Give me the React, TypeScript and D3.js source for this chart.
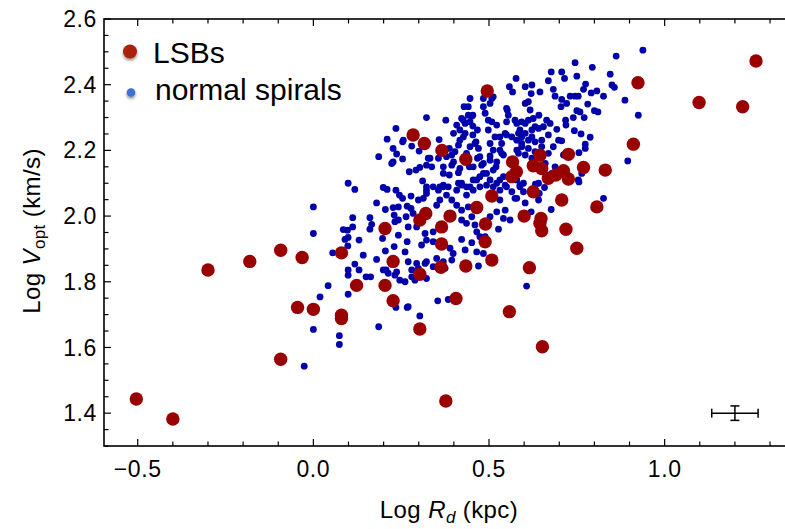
import React from "react";
import * as d3 from "d3";

// ---- data ----
const lsbPoints: [number, number][] = [
  [-0.504, 1.443], [-0.40, 1.382], [-0.30, 1.836], [-0.181, 1.862], [-0.093, 1.896], [-0.032, 1.874],
  [0.08, 1.888], [0.123, 1.789], [0.204, 1.789], [0.227, 1.742], [-0.045, 1.722], [0.0, 1.716],
  [0.08, 1.698], [0.08, 1.688], [-0.093, 1.564], [0.204, 1.962], [0.227, 1.862],
  [1.26, 2.472], [0.924, 2.406], [1.098, 2.346], [1.222, 2.333], [0.495, 2.381], [0.911, 2.219],
  [0.284, 2.247], [0.316, 2.221], [0.366, 2.2], [0.434, 2.173], [0.726, 2.188], [0.769, 2.148], [0.831, 2.14],
  [0.567, 2.165], [0.578, 2.135], [0.565, 2.12], [0.626, 2.153], [0.645, 2.185], [0.65, 2.145],
  [0.669, 2.115], [0.69, 2.125], [0.712, 2.138], [0.726, 2.113],
  [0.626, 2.074], [0.707, 2.049], [0.807, 2.028], [0.508, 2.061], [0.465, 2.026], [0.32, 2.008],
  [0.303, 1.988], [0.389, 2.0], [0.365, 1.967], [0.365, 1.915], [0.49, 1.976], [0.489, 1.922],
  [0.6, 2.0], [0.648, 1.993], [0.645, 1.978], [0.65, 1.955], [0.719, 1.96], [0.75, 1.902],
  [0.508, 1.866], [0.363, 1.844], [0.434, 1.848], [0.615, 1.843], [0.303, 1.823], [0.406, 1.749],
  [0.558, 1.709], [0.303, 1.656], [0.652, 1.602], [0.377, 1.437],
];

const spiralPoints: [number, number][] = [
  [0.099, 2.10], [0.118, 2.081], [0.0, 2.028], [0.0, 1.947], [0.199, 2.087], [0.21, 2.081], [0.235, 2.079],
  [0.18, 2.04], [0.205, 2.02], [0.227, 2.026], [0.23, 2.003], [0.112, 1.995], [0.161, 1.995], [0.112, 1.967],
  [0.166, 1.975], [0.161, 1.96], [0.232, 1.983], [0.09, 1.929], [0.099, 1.935], [0.13, 1.927], [0.197, 1.932],
  [0.098, 1.909], [0.055, 1.888], [0.142, 1.881], [0.205, 1.894], [0.23, 1.907], [0.18, 1.868], [0.118, 1.854],
  [0.099, 1.836], [0.13, 1.836], [0.099, 1.82], [0.15, 1.815], [0.163, 1.815], [0.199, 1.836], [0.207, 1.836],
  [0.042, 1.788], [0.019, 1.754], [0.099, 1.762], [0.235, 1.722], [0.0, 1.655], [0.074, 1.636], [0.074, 1.609],
  [0.186, 1.663], [-0.026, 1.543], [0.085, 1.959], [0.097, 1.957],
  [0.322, 2.30], [0.235, 2.267], [0.21, 2.234], [0.254, 2.226], [0.28, 2.213], [0.301, 2.198], [0.227, 2.206],
  [0.237, 2.189], [0.186, 2.181], [0.254, 2.174], [0.227, 2.165], [0.223, 2.16], [0.327, 2.176], [0.273, 2.135],
  [0.292, 2.14], [0.303, 2.148], [0.322, 2.155], [0.311, 2.107], [0.322, 2.079], [0.245, 2.064], [0.254, 2.054],
  [0.278, 2.061], [0.242, 2.028], [0.267, 2.03], [0.278, 2.023], [0.264, 1.998],
  [0.577, 2.419], [0.558, 2.394], [0.567, 2.378], [0.446, 2.358], [0.484, 2.358], [0.508, 2.358], [0.429, 2.333],
  [0.441, 2.333], [0.484, 2.333], [0.552, 2.323], [0.454, 2.307], [0.427, 2.292], [0.489, 2.313], [0.498, 2.292],
  [0.446, 2.287], [0.377, 2.292], [0.408, 2.277], [0.417, 2.262], [0.454, 2.274], [0.467, 2.262], [0.508, 2.287],
  [0.522, 2.277], [0.55, 2.287], [0.574, 2.292], [0.256, 2.231], [0.358, 2.233], [0.417, 2.231], [0.432, 2.252],
  [0.454, 2.247], [0.463, 2.226], [0.413, 2.216], [0.446, 2.211], [0.47, 2.206], [0.503, 2.221], [0.531, 2.241],
  [0.546, 2.252], [0.565, 2.241], [0.584, 2.252], [0.512, 2.201], [0.531, 2.201], [0.387, 2.206], [0.332, 2.176],
  [0.356, 2.176], [0.394, 2.186], [0.37, 2.15], [0.394, 2.155], [0.413, 2.132], [0.387, 2.125], [0.444, 2.15],
  [0.467, 2.176], [0.479, 2.155], [0.503, 2.17], [0.52, 2.15], [0.541, 2.186], [0.579, 2.201], [0.579, 2.11],
  [0.337, 2.15], [0.322, 2.089], [0.341, 2.089], [0.36, 2.089], [0.384, 2.089], [0.422, 2.1], [0.446, 2.089],
  [0.465, 2.11], [0.484, 2.13], [0.503, 2.11], [0.522, 2.1], [0.541, 2.12],
  [0.938, 2.505], [0.862, 2.487], [0.745, 2.467], [0.794, 2.453], [0.677, 2.439], [0.707, 2.439], [0.75, 2.426],
  [0.715, 2.419], [0.669, 2.412], [0.845, 2.432], [0.85, 2.399], [0.857, 2.392], [0.603, 2.394], [0.622, 2.399],
  [0.645, 2.378], [0.683, 2.386], [0.775, 2.402], [0.769, 2.386], [0.791, 2.375], [0.807, 2.381], [0.826, 2.365],
  [0.887, 2.353], [0.62, 2.373], [0.612, 2.348], [0.688, 2.365], [0.731, 2.365], [0.745, 2.365], [0.754, 2.365],
  [0.707, 2.355], [0.705, 2.333], [0.721, 2.343], [0.781, 2.341], [0.81, 2.317], [0.8, 2.321], [0.75, 2.321],
  [0.759, 2.317], [0.771, 2.30], [0.74, 2.30], [0.617, 2.323], [0.642, 2.307], [0.664, 2.292], [0.626, 2.297],
  [0.612, 2.292], [0.718, 2.292], [0.719, 2.277], [0.693, 2.264], [0.743, 2.26], [0.762, 2.25], [0.788, 2.24],
  [0.774, 2.219], [0.925, 2.307], [0.895, 2.168], [0.707, 2.229], [0.756, 2.193], [0.774, 2.206], [0.674, 2.282],
  [0.655, 2.272], [0.631, 2.272], [0.641, 2.267], [0.622, 2.262], [0.603, 2.282], [0.593, 2.287], [0.579, 2.282],
  [0.588, 2.262], [0.603, 2.252], [0.622, 2.241], [0.669, 2.247], [0.698, 2.231], [0.683, 2.211], [0.669, 2.191],
  [0.712, 2.186], [0.65, 2.231], [0.631, 2.226], [0.612, 2.231], [0.593, 2.241], [0.579, 2.231], [0.593, 2.211],
  [0.612, 2.206], [0.631, 2.196], [0.65, 2.211], [0.584, 2.191], [0.603, 2.186], [0.622, 2.176], [0.66, 2.16],
  [0.688, 2.15], [0.679, 2.13], [0.764, 2.13], [0.754, 2.11], [0.598, 2.1], [0.588, 2.089], [0.641, 2.1],
  [0.299, 2.049], [0.313, 2.054], [0.322, 2.069], [0.356, 2.079], [0.37, 2.094], [0.379, 2.064], [0.394, 2.049],
  [0.36, 2.049], [0.351, 2.033], [0.408, 2.079], [0.422, 2.094], [0.436, 2.064], [0.455, 2.079], [0.474, 2.089],
  [0.493, 2.094], [0.512, 2.089], [0.531, 2.079], [0.546, 2.094], [0.565, 2.074], [0.408, 2.033], [0.422, 2.018],
  [0.441, 2.028], [0.451, 1.998], [0.436, 1.978], [0.422, 1.988], [0.46, 1.973], [0.465, 1.952], [0.474, 1.937],
  [0.489, 1.937], [0.503, 1.998], [0.522, 2.013], [0.546, 2.018], [0.541, 1.993], [0.56, 1.988], [0.574, 2.054],
  [0.531, 2.049], [0.527, 1.96], [0.465, 1.891], [0.484, 1.886], [0.47, 1.848], [0.389, 1.902], [0.398, 1.886],
  [0.394, 1.866], [0.37, 1.861], [0.375, 1.841], [0.422, 1.929], [0.451, 1.919], [0.432, 1.897], [0.351, 1.871],
  [0.322, 1.861], [0.341, 1.846], [0.308, 1.912], [0.322, 1.927], [0.341, 1.952], [0.318, 1.947], [0.341, 1.922],
  [0.27, 1.967], [0.242, 1.942], [0.267, 1.922], [0.261, 1.891], [0.27, 1.861], [0.28, 1.836], [0.28, 1.815],
  [0.289, 1.805], [0.322, 1.81], [0.299, 1.841], [0.242, 1.988], [0.294, 1.967], [0.284, 2.008], [0.27, 1.724],
  [0.354, 1.742], [0.384, 1.746], [0.303, 1.696],
  [0.826, 2.054], [0.677, 2.02], [0.603, 2.04], [0.62, 2.013], [0.588, 2.094], [0.579, 2.054], [0.598, 2.074],
  [0.641, 2.049], [0.643, 2.069], [0.658, 2.087], [0.632, 2.097], [0.756, 2.104], [0.607, 1.787],
  [0.213, 1.826], [0.232, 1.82], [0.237, 1.83], [0.246, 1.805], [0.261, 1.8], [0.294, 1.856], [0.318, 1.856],
  [0.267, 1.722],
  [0.422, 2.297], [0.432, 2.282], [0.441, 2.307], [0.451, 2.304], [0.503, 2.343], [0.512, 2.363], [0.55, 2.328],
  [0.555, 2.307], [0.603, 2.343], [0.399, 2.252], [0.427, 2.241], [0.46, 2.221], [0.436, 2.191], [0.403, 2.196],
  [0.379, 2.181], [0.399, 2.165], [0.417, 2.145], [0.436, 2.165], [0.455, 2.15], [0.474, 2.181], [0.484, 2.16],
  [0.503, 2.183], [0.522, 2.165], [0.536, 2.191], [0.536, 2.221], [0.517, 2.241], [0.498, 2.262], [0.55, 2.247],
  [0.593, 2.221], [0.512, 2.14], [0.493, 2.13], [0.474, 2.12], [0.455, 2.11], [0.436, 2.089], [0.413, 2.1],
  [0.37, 2.13], [0.37, 2.089], [0.531, 2.11], [0.55, 2.089],
];

const xMajorTicks = [-0.5, 0.0, 0.5, 1.0];
const xTickLabels = ["\u22120.5", "0.0", "0.5", "1.0"];
const yMajorTicks = [1.4, 1.6, 1.8, 2.0, 2.2, 2.4, 2.6];
const yTickLabels = ["1.4", "1.6", "1.8", "2.0", "2.2", "2.4", "2.6"];
const xMinorTicks = d3.range(-5, 14).map((i) => i / 10);
const yMinorTicks = d3.range(26, 53).map((i) => i / 20);

// representative error bar: [x, y, xErr, yErr]
const errorBar = [1.2, 1.4, 0.066, 0.022];

const legendLabels = ["LSBs", "normal spirals"];

const W = 785;
const H = 529;
const FONT = "'Liberation Sans', Arial, Helvetica, sans-serif";

export default function App() {
  const left = 104, right = 787.6, top = 19, bottom = 446;
  const x = d3.scaleLinear().domain([-0.596, 1.35]).range([left, right]);
  const y = d3.scaleLinear().domain([1.3, 2.6]).range([bottom, top]);

  const [ex, ey, exErr, eyErr] = errorBar;

  return (
    <svg
      width={W}
      height={H}
      style={{ position: "absolute", left: 0, top: 0, background: "#fff" }}
      fontFamily={FONT}
    >
      <defs>
        <filter id="shadow" x="-100%" y="-100%" width="300%" height="300%">
          <feGaussianBlur in="SourceAlpha" stdDeviation="1.6" />
          <feOffset dx="0" dy="2" result="b" />
          <feComponentTransfer>
            <feFuncA type="linear" slope="0.45" />
          </feComponentTransfer>
          <feMerge>
            <feMergeNode />
            <feMergeNode in="SourceGraphic" />
          </feMerge>
        </filter>
        <clipPath id="plotClip">
          <rect x={left} y={top} width={right - left} height={bottom - top} />
        </clipPath>
      </defs>

      {/* data */}
      <g clipPath="url(#plotClip)">
        {spiralPoints.map((p, i) => (
          <circle key={"s" + i} cx={x(p[0])} cy={y(p[1])} r={3.4} fill="#0000aa" />
        ))}
        {lsbPoints.map((p, i) => (
          <circle key={"l" + i} cx={x(p[0])} cy={y(p[1])} r={6.7} fill="#990000" />
        ))}
      </g>

      {/* error bar */}
      <g stroke="#000" strokeWidth={1.5} fill="none">
        <line x1={x(ex - exErr)} x2={x(ex + exErr)} y1={y(ey)} y2={y(ey)} />
        <line x1={x(ex - exErr)} x2={x(ex - exErr)} y1={y(ey) - 4.5} y2={y(ey) + 4.5} />
        <line x1={x(ex + exErr)} x2={x(ex + exErr)} y1={y(ey) - 4.5} y2={y(ey) + 4.5} />
        <line x1={x(ex)} x2={x(ex)} y1={y(ey - eyErr)} y2={y(ey + eyErr)} />
        <line x1={x(ex) - 4.5} x2={x(ex) + 4.5} y1={y(ey - eyErr)} y2={y(ey - eyErr)} />
        <line x1={x(ex) - 4.5} x2={x(ex) + 4.5} y1={y(ey + eyErr)} y2={y(ey + eyErr)} />
      </g>

      {/* frame */}
      <rect x={left} y={top} width={right - left} height={bottom - top} fill="none" stroke="#000" strokeWidth={1.6} />

      {/* ticks (inward) */}
      <g stroke="#000" strokeWidth={1.2}>
        {xMinorTicks.map((t, i) => {
          const major = xMajorTicks.some((m) => Math.abs(m - t) < 1e-9);
          const len = major ? 7 : 4.5;
          return (
            <g key={"xt" + i}>
              <line x1={x(t)} x2={x(t)} y1={bottom} y2={bottom - len} />
              <line x1={x(t)} x2={x(t)} y1={top} y2={top + len} />
            </g>
          );
        })}
        {yMinorTicks.map((t, i) => {
          const major = yMajorTicks.some((m) => Math.abs(m - t) < 1e-9);
          const len = major ? 7 : 4.5;
          return <line key={"yt" + i} x1={left} x2={left + len} y1={y(t)} y2={y(t)} />;
        })}
      </g>

      {/* tick labels */}
      <g fontSize={23} fill="#000">
        {xMajorTicks.map((t, i) => (
          <text key={"xl" + i} x={x(t)} y={477} textAnchor="middle" letterSpacing={0.6}>
            {xTickLabels[i]}
          </text>
        ))}
        {yMajorTicks.map((t, i) => (
          <text key={"yl" + i} x={97} y={y(t)} dy="0.35em" textAnchor="end" letterSpacing={0.6}>
            {yTickLabels[i]}
          </text>
        ))}
      </g>

      {/* axis labels */}
      <text x={449} y={518} textAnchor="middle" fontSize={24} fill="#000" letterSpacing={0.4}>
        <tspan>Log </tspan>
        <tspan fontStyle="italic">R</tspan>
        <tspan fontStyle="italic" fontSize={17} dy={5}>d</tspan>
        <tspan dy={-5}> (kpc)</tspan>
      </text>
      <text
        transform={`translate(40,231) rotate(-90)`}
        textAnchor="middle"
        fontSize={24}
        fill="#000"
        letterSpacing={0.4}
      >
        <tspan>Log </tspan>
        <tspan fontStyle="italic">V</tspan>
        <tspan fontSize={17} dy={5}>opt</tspan>
        <tspan dy={-5}> (km/s)</tspan>
      </text>

      {/* legend */}
      <g>
        <circle cx={130} cy={51.5} r={7} fill="#a82010" filter="url(#shadow)" />
        <text x={153} y={63} fontSize={30} fill="#000">{legendLabels[0]}</text>
        <circle cx={131} cy={92.5} r={4.3} fill="#3c6fd4" filter="url(#shadow)" />
        <text x={155} y={100} fontSize={30} fill="#000">{legendLabels[1]}</text>
      </g>
    </svg>
  );
}
